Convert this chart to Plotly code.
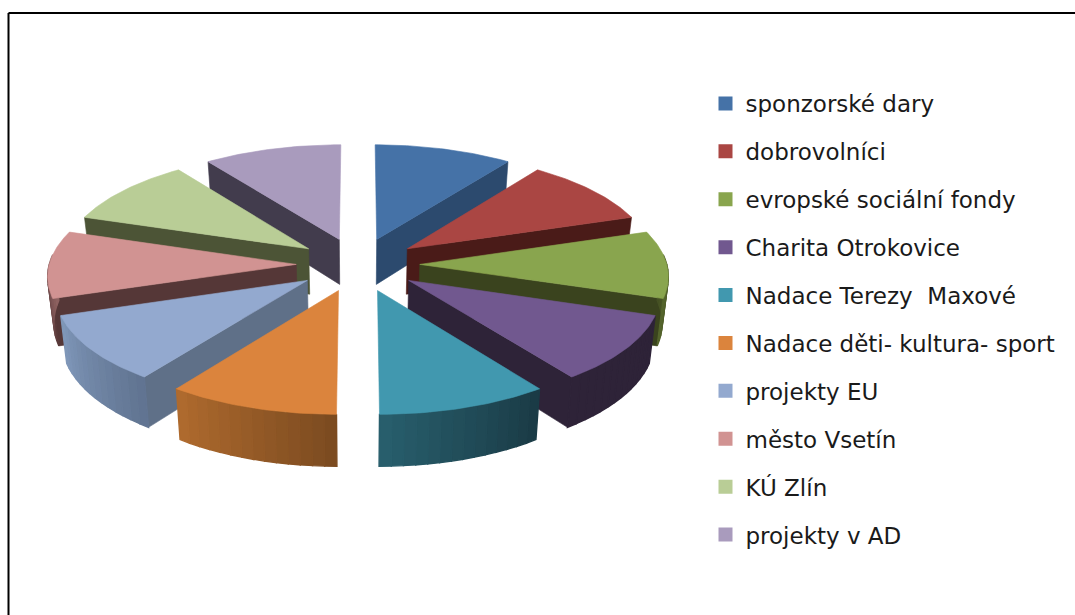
import math
import plotly.graph_objects as go

categories = ["sponzorské dary", "dobrovolníci", "evropské sociální fondy", "Charita Otrokovice",
              "Nadace Terezy  Maxové", "Nadace děti- kultura- sport", "projekty EU", "město Vsetín",
              "KÚ Zlín", "projekty v AD"]
values = [10, 10, 10, 10, 10, 10, 10, 10, 10, 10]
top_colors = ["#4572A7", "#AA4643", "#89A54E", "#71588F", "#4198AF",
              "#DB843D", "#93A9CF", "#D19392", "#B9CD96", "#A99BBD"]
wall_colors = ["#2C4A6E", "#4A1B18", "#3A431E", "#2E2338", "#1B3C46",
               "#7A4A20", "#5F7088", "#553737", "#4C5436", "#423C4D"]
rim_from = ["#2C4A6E", "#4A1B18", "#3A431E", "#2E2338", "#1A3A45",
            "#7A4A20", "#607390", "#553737", "#4C5436", "#423C4D"]
rim_to = ["#2C4A6E", "#4A1B18", "#55652C", "#2E2338", "#285F6D",
          "#B06B2E", "#8098BA", "#B27C7B", "#4C5436", "#423C4D"]

CX, CY, A, B, P, H, SHRINK, EXPLODE = 358, 264.4, 107.5, 247, 0.091, 46, 0.98, 0.25


def project(X, U, bottom=False):
    w = 1 + P * U
    x = B * X / w
    y = CY - A * U / w
    if bottom:
        x *= SHRINK
        y += H / w
    return CX + x, y


def mix(c1, c2, t):
    a = [int(c1[i:i + 2], 16) for i in (1, 3, 5)]
    b = [int(c2[i:i + 2], 16) for i in (1, 3, 5)]
    return "rgb(%d,%d,%d)" % tuple(round(p + (q - p) * t) for p, q in zip(a, b))


fig = go.Figure()
for name, col in zip(categories, top_colors):
    fig.add_trace(go.Scatter(x=[None], y=[None], mode="markers", name=name, legendgroup=name,
                             marker=dict(symbol="square", size=14, color=col)))

total = sum(values)
slices = []
start = 0.0
for i, v in enumerate(values):
    end = start + v / total * 2 * math.pi
    slices.append((i, start, end))
    start = end


def poly(pts, color, group, lw=0.6):
    xs = [p[0] for p in pts] + [pts[0][0]]
    ys = [p[1] for p in pts] + [pts[0][1]]
    fig.add_trace(go.Scatter(x=xs, y=ys, mode="lines", fill="toself", fillcolor=color,
                             line=dict(color=color, width=lw), hoverinfo="skip",
                             showlegend=False, legendgroup=group))


def depth(s):
    return math.cos((s[1] + s[2]) / 2)


for i, a0, a1 in sorted(slices, key=depth, reverse=True):
    group = categories[i]
    mid = (a0 + a1) / 2
    ox, ou = EXPLODE * math.sin(mid), EXPLODE * math.cos(mid)
    pt = lambda t: (ox + math.sin(t), ou + math.cos(t))
    tip = (ox, ou)
    # radial walls facing the viewer
    for edge, normal in ((a0, a0 - math.pi / 2), (a1, a1 + math.pi / 2)):
        if math.cos(normal) < -0.01:
            q = pt(edge)
            poly([project(*tip), project(*q), project(*q, True), project(*tip, True)],
                 wall_colors[i], group)
    # rim
    n = 14
    for k in range(n):
        t0 = a0 + (a1 - a0) * k / n
        t1 = a0 + (a1 - a0) * (k + 1) / n
        if math.cos((t0 + t1) / 2) < 0.08:
            p0, p1 = pt(t0), pt(t1)
            poly([project(*p0), project(*p1), project(*p1, True), project(*p0, True)],
                 mix(rim_from[i], rim_to[i], (k + 0.5) / n), group, lw=1.4)
    # top face
    arc = [project(*pt(a0 + (a1 - a0) * k / 40)) for k in range(41)]
    poly([project(*tip)] + arc, top_colors[i], group)

fig.update_layout(
    width=1075, height=615, margin=dict(l=0, r=0, t=0, b=0),
    paper_bgcolor="white", plot_bgcolor="white",
    xaxis=dict(range=[0, 1075], visible=False, fixedrange=True),
    yaxis=dict(range=[615, 0], visible=False, fixedrange=True),
    legend=dict(x=705.5 / 1075, xanchor="left", y=1 - 82 / 615, yanchor="top",
                font=dict(family="DejaVu Sans", size=23, color="#1a1a1a"), tracegroupgap=15,
                itemwidth=30, bgcolor="rgba(0,0,0,0)"),
    shapes=[
        dict(type="line", xref="x", yref="y", x0=8.5, x1=1075, y0=13, y1=13, line=dict(color="black", width=2)),
        dict(type="line", xref="x", yref="y", x0=8.5, x1=8.5, y0=13, y1=615, line=dict(color="black", width=2)),
    ],
)
fig.write_html("out.html", config={"displayModeBar": False}, post_script="document.body.style.margin='0';")
